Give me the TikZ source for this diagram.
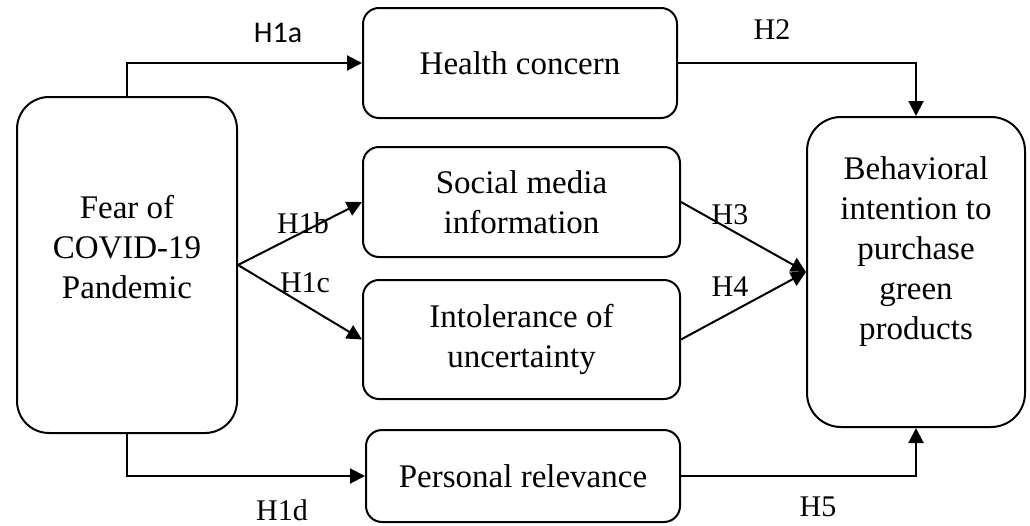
\documentclass[tikz,border=0pt]{standalone}
\usepackage{fontspec}
\setmainfont{Liberation Serif}
\newfontfamily\labelsans{Carlito}
\usetikzlibrary{arrows.meta}

\begin{document}
\begin{tikzpicture}[x=1pt, y=-1pt, line width=2pt,
  box/.style={draw, rounded corners=16pt, align=center, inner sep=0pt,
    font=\fontsize{33}{40}\selectfont},
  hyp/.style={inner sep=1pt, font=\fontsize{30}{36}\selectfont},
  >={Triangle[length=15pt,width=15pt]}]
\useasboundingbox (0,0) rectangle (1030,525);
\node[box, rounded corners=32pt, minimum width=220pt, minimum height=336pt] (fear) at (127,265) {Fear of\\ COVID-19\\ Pandemic\\[-3pt]\mbox{}};
\node[box, minimum width=314pt, minimum height=110pt] (health) at (520,63) {Health concern};
\node[box, minimum width=317pt, minimum height=110pt] (social) at (521.5,202) {Social media\\ information};
\node[box, minimum width=317pt, minimum height=119pt] (intol) at (521.5,339.5) {Intolerance of\\ uncertainty};
\node[box, minimum width=314pt, minimum height=92pt] (personal) at (523,476) {Personal relevance};
\node[box, rounded corners=34pt, minimum width=218pt, minimum height=310pt] (behav) at (916,272) {Behavioral\\ intention to\\ purchase\\ green\\ products\\[7pt]\mbox{}};
% hypothesis labels
\node[hyp, font=\labelsans\fontsize{30}{36}\selectfont] (h1a) at (278,33) {H1a};
\node[hyp] (h1b) at (303,223) {H1b};
\node[hyp] (h1c) at (305,283) {H1c};
\node[hyp] (h1d) at (282,510) {H1d};
\node[hyp] (h2) at (772,30) {H2};
\node[hyp] (h3) at (730,215) {H3};
\node[hyp] (h4) at (730,287) {H4};
\node[hyp] (h5) at (818,507) {H5};
% paths
\draw[->] (fear.north) |- (health.west);
\draw[->] (fear.east) -- (social.west);
\draw[->] (fear.east) -- (intol.west);
\draw[->] (fear.south) |- (personal.west);
\draw[->] (health.east) -| (behav.north);
\draw[->] (social.east) -- (behav.west);
\draw[->] (intol.east) -- (behav.west);
\draw[->] (personal.east) -| (behav.south);
\end{tikzpicture}
\end{document}
